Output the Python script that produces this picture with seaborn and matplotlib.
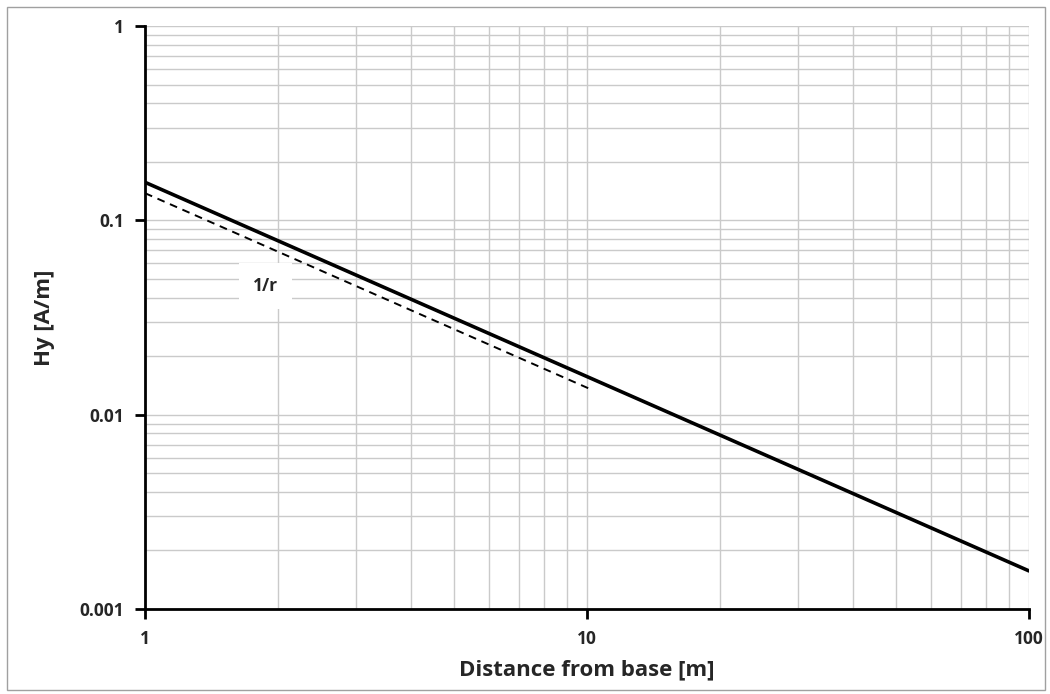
import matplotlib
matplotlib.use("Agg")
import matplotlib.pyplot as plt
import seaborn as sns
import pandas as pd
from matplotlib.ticker import LogLocator, FixedLocator, FixedFormatter, NullFormatter
from matplotlib.patches import Rectangle

# Data
hy_x = [1, 100]
hy_y = [0.157, 0.00157]
ref_x = [1, 10.2]
ref_y = [0.138, 0.0135]
x_ticks = [1, 10, 100]
x_labels = ["1", "10", "100"]
y_ticks = [0.001, 0.01, 0.1, 1]
y_labels = ["0.001", "0.01", "0.1", "1"]
note_text = "1/r"
note_pos = (1.87, 0.046)

sns.set_theme(style="white")
plt.rcParams['font.family'] = ['Open Sans', 'DejaVu Sans']

fig = plt.figure(figsize=(10.5, 6.94), dpi=100)
ax = fig.add_axes([0.1381, 0.1225, 0.980 - 0.1381, 0.9625 - 0.1225])

df_hy = pd.DataFrame({"x": hy_x, "y": hy_y})
df_ref = pd.DataFrame({"x": ref_x, "y": ref_y})
sns.lineplot(data=df_hy, x="x", y="y", ax=ax, color="black", linewidth=2.6, zorder=4)
sns.lineplot(data=df_ref, x="x", y="y", ax=ax, color="black", linewidth=1.4,
             linestyle=(0, (4, 3)), zorder=4)

ax.set_xscale("log")
ax.set_yscale("log")
ax.set_xlim(1, 100)
ax.set_ylim(0.001, 1)

ax.xaxis.set_major_locator(FixedLocator(x_ticks))
ax.xaxis.set_major_formatter(FixedFormatter(x_labels))
ax.yaxis.set_major_locator(FixedLocator(y_ticks))
ax.yaxis.set_major_formatter(FixedFormatter(y_labels))
ax.xaxis.set_minor_locator(LogLocator(base=10, subs=range(2, 10)))
ax.yaxis.set_minor_locator(LogLocator(base=10, subs=range(2, 10)))
ax.xaxis.set_minor_formatter(NullFormatter())
ax.yaxis.set_minor_formatter(NullFormatter())

ax.grid(True, which="both", color="#cacaca", linewidth=1.0)
ax.set_axisbelow(True)

for s in ["top", "right"]:
    ax.spines[s].set_visible(False)
for s in ["left", "bottom"]:
    ax.spines[s].set_color("black")
    ax.spines[s].set_linewidth(2.0)
    ax.spines[s].set_zorder(5)

ax.tick_params(which="major", direction="out", length=7, width=2.0, color="black",
               labelsize=12.5, pad=8, left=True, bottom=True)
ax.tick_params(which="minor", length=0)
for lbl in ax.get_xticklabels() + ax.get_yticklabels():
    lbl.set_fontweight("bold")

ax.set_xlabel("Distance from base [m]", fontsize=16, fontweight="bold", labelpad=8)
ax.set_ylabel("Hy [A/m]", fontsize=16, fontweight="bold", labelpad=18)

ax.text(note_pos[0], note_pos[1], note_text, fontsize=12.5, fontweight="bold",
        ha="center", va="center", zorder=6,
        bbox=dict(boxstyle="square,pad=0.8", facecolor="white", edgecolor="none"))

fig.patches.append(Rectangle((7 / 1050, 4 / 694), 1038 / 1050, 683 / 694,
                             transform=fig.transFigure, fill=False,
                             edgecolor="#a0a0a0", linewidth=1.0))

fig.savefig("out.png", dpi=100)
